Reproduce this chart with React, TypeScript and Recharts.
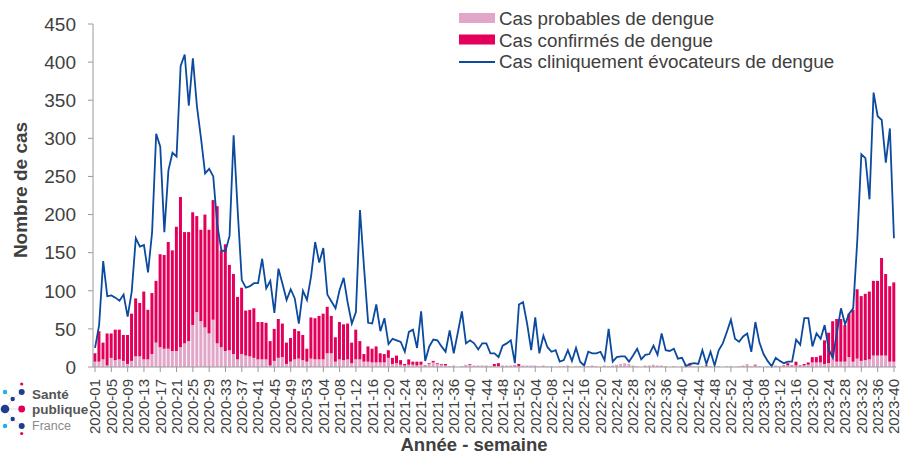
import React from 'react';
import { ComposedChart, Bar, Line, XAxis, YAxis } from 'recharts';

// Semaines épidémiologiques 2020-01 -> 2023-40
const YEARS = [2020, 2021, 2022, 2023];
const WEEKS_IN_YEAR = [53, 52, 52, 40];

const weeks: string[] = [];
YEARS.forEach((yr, k) => {
  for (let w = 1; w <= WEEKS_IN_YEAR[k]; w++) {
    weeks.push(`${yr}-${String(w).padStart(2, '0')}`);
  }
});

// Cas probables de dengue
const probables = [
  7, 7, 10, 2, 12, 9, 10, 8, 4, 8,
  14, 14, 10, 10, 17, 32, 26, 24, 24, 21,
  21, 26, 31, 34, 55, 72, 60, 52, 44, 62,
  31, 26, 21, 22, 17, 10, 17, 15, 14, 12,
  10, 10, 10, 2, 8, 12, 13, 4, 7, 10,
  11, 9, 7, 11, 10, 10, 10, 18, 18, 7,
  10, 9, 10, 5, 10, 10, 7, 7, 6, 6,
  6, 6, 12, 4, 5, 3, 2, 3, 3, 2,
  3, 1, 4, 6, 4, 3, 2, 1, 2, 0,
  1, 3, 3, 2, 2, 2, 2, 1, 1, 1,
  2, 2, 2, 1, 1, 2, 2, 2, 2, 1,
  2, 1, 1, 0, 1, 1, 2, 0, 1, 1,
  0, 1, 2, 1, 0, 2, 1, 2, 3, 4,
  5, 4, 2, 1, 0, 2, 2, 3, 2, 2,
  1, 0, 1, 0, 1, 1, 2, 1, 1, 1,
  1, 1, 0, 1, 0, 1, 1, 0, 1, 2,
  4, 1, 2, 1, 0, 1, 0, 2, 1, 1,
  2, 1, 2, 1, 2, 3, 6, 6, 6, 4,
  5, 13, 7, 7, 7, 13, 7, 11, 8, 9,
  10, 15, 15, 15, 15, 7, 7,
];

// Cas confirmés de dengue
const confirmes = [
  11, 40, 22, 42, 32, 40, 39, 34, 38, 62,
  76, 70, 89, 65, 80, 81, 122, 123, 140, 132,
  163, 197, 146, 143, 148, 126, 120, 148, 136, 157,
  180, 127, 140, 112, 105, 82, 87, 59, 61, 65,
  49, 49, 48, 32, 42, 51, 44, 28, 31, 40,
  36, 33, 17, 54, 54, 57, 60, 61, 49, 32,
  49, 47, 47, 27, 39, 24, 10, 20, 18, 21,
  12, 11, 10, 8, 10, 6, 2, 7, 4, 5,
  4, 1, 1, 2, 1, 1, 2, 0, 0, 0,
  0, 0, 1, 0, 0, 0, 0, 0, 3, 4,
  0, 0, 0, 1, 3, 0, 0, 0, 0, 0,
  0, 0, 0, 0, 0, 0, 0, 0, 0, 0,
  0, 0, 0, 0, 0, 0, 0, 0, 0, 0,
  0, 0, 0, 0, 0, 0, 0, 0, 0, 0,
  0, 0, 0, 0, 0, 2, 3, 0, 0, 0,
  1, 0, 0, 0, 0, 0, 0, 0, 0, 0,
  0, 0, 1, 0, 0, 0, 0, 0, 0, 1,
  3, 1, 5, 1, 2, 3, 7, 7, 9, 31,
  40, 47, 56, 56, 48, 57, 68, 91, 85, 87,
  89, 98, 98, 128, 107, 99, 104,
];

// Cas cliniquement évocateurs de dengue
const evocateurs = [
  25, 55, 139, 93, 94, 91, 87, 95, 66, 99,
  169, 158, 160, 124, 177, 306, 289, 177, 258, 281,
  276, 395, 410, 343, 405, 342, 300, 254, 260, 250,
  186, 153, 152, 172, 304, 205, 114, 104, 106, 110,
  110, 142, 103, 113, 71, 129, 109, 88, 102, 90,
  57, 100, 88, 119, 164, 137, 156, 95, 86, 77,
  101, 117, 84, 57, 72, 206, 130, 58, 57, 82,
  47, 64, 30, 37, 35, 33, 20, 46, 49, 25,
  73, 8, 27, 36, 35, 27, 20, 48, 18, 45,
  73, 31, 35, 31, 23, 31, 31, 18, 18, 13,
  28, 31, 35, 5, 82, 85, 57, 22, 65, 18,
  41, 26, 20, 22, 7, 9, 22, 8, 25, 7,
  2, 20, 18, 18, 20, 9, 50, 7, 13, 14,
  14, 7, 15, 24, 10, 16, 17, 28, 16, 44,
  22, 21, 24, 11, 12, 1, 4, 5, 4, 22,
  4, 20, 2, 22, 31, 46, 62, 37, 33, 40,
  44, 20, 59, 32, 17, 8, 1, 12, 8, 5,
  7, 7, 36, 29, 64, 64, 27, 44, 37, 55,
  23, 12, 45, 77, 56, 70, 77, 166, 279, 274,
  220, 360, 329, 324, 268, 313, 169,
];

const yTicks = [0, 50, 100, 150, 200, 250, 300, 350, 400, 450];

const legendItems = [
  { label: 'Cas probables de dengue', color: '#e2a6c9', kind: 'box' },
  { label: 'Cas confirmés de dengue', color: '#e4005a', kind: 'box' },
  { label: 'Cas cliniquement évocateurs de dengue', color: '#0b4a9e', kind: 'line' },
];

const FONT = '"Liberation Sans", Arial, sans-serif';
const TEXT = '#404040';

const data = weeks.map((w, i) => ({
  week: w,
  probables: probables[i],
  confirmes: confirmes[i],
  evocateurs: evocateurs[i],
}));

const XTick = (props: any) => {
  const { x, y, payload } = props;
  return (
    <g transform={`translate(${x},${y})`}>
      <text
        transform="rotate(-90)"
        x={-5}
        y={0}
        dy={5.3}
        textAnchor="end"
        fontSize={15}
        fontFamily={FONT}
        fill={TEXT}
      >
        {payload.value}
      </text>
    </g>
  );
};

const Logo = () => (
  <svg width={92} height={70} style={{ position: 'absolute', left: 0, top: 378 }}>
    <g stroke="#c9c9c9" strokeWidth={0.6}>
      <line x1={5} y1={14} x2={12.7} y2={21} />
      <line x1={21.7} y1={14} x2={12.7} y2={21} />
      <line x1={12.7} y1={21} x2={5} y2={31} />
      <line x1={5} y1={31} x2={21.7} y2={31} />
      <line x1={5} y1={31} x2={12.7} y2={41} />
      <line x1={12.7} y1={41} x2={5} y2={48} />
      <line x1={12.7} y1={41} x2={21.7} y2={48} />
    </g>
    <circle cx={21.7} cy={6} r={1.6} fill="#e4005a" />
    <circle cx={5} cy={14} r={2.2} fill="#1fb0e6" />
    <circle cx={21.7} cy={14} r={3} fill="#1d3d8f" />
    <circle cx={12.7} cy={21} r={2.2} fill="#1d3d8f" />
    <circle cx={5} cy={31} r={4.3} fill="#1d3d8f" />
    <circle cx={21.7} cy={31} r={3.4} fill="#e4005a" />
    <circle cx={12.7} cy={41} r={2.2} fill="#1d3d8f" />
    <circle cx={5} cy={48} r={2.2} fill="#1fb0e6" />
    <circle cx={21.7} cy={48} r={3} fill="#1d3d8f" />
    <circle cx={21.7} cy={55.5} r={1.6} fill="#e4005a" />
    <text x={32} y={21} fontSize={13.5} fontWeight="bold" fontFamily={FONT} fill="#555">Santé</text>
    <text x={32} y={36} fontSize={13.5} fontWeight="bold" fontFamily={FONT} fill="#555">publique</text>
    <text x={32} y={52} fontSize={12.5} fontFamily={FONT} fill="#8a8a8a">France</text>
  </svg>
);

const LegendBox = () => (
  <svg width={420} height={75} style={{ position: 'absolute', left: 455, top: 4 }}>
    {legendItems.map((it, k) => {
      const cy = 14 + k * 21.5;
      return (
        <g key={it.label}>
          {it.kind === 'box' ? (
            <rect x={4} y={cy - 5} width={36} height={10} fill={it.color} />
          ) : (
            <line x1={4} y1={cy + 1} x2={40} y2={cy + 1} stroke={it.color} strokeWidth={2} />
          )}
          <text x={44} y={cy + 7} fontSize={18.8} fontFamily={FONT} fill={TEXT}>
            {it.label}
          </text>
        </g>
      );
    })}
  </svg>
);

export default function App() {
  return (
    <div
      style={{
        position: 'absolute',
        left: 0,
        top: 0,
        width: 903,
        height: 457,
        background: '#fff',
        overflow: 'hidden',
        fontFamily: FONT,
      }}
    >
      <ComposedChart
        width={903}
        height={457}
        data={data}
        margin={{ top: 24, right: 7, left: 33, bottom: 0 }}
        barCategoryGap="9%"
      >
        <XAxis
          dataKey="week"
          interval={3}
          height={90}
          tickSize={5}
          axisLine={{ stroke: '#9a9a9a' }}
          tickLine={{ stroke: '#9a9a9a' }}
          tick={(p: any) => <XTick {...p} />}
        />
        <YAxis
          domain={[0, 450]}
          ticks={yTicks}
          width={60}
          tickSize={5}
          tickMargin={12}
          axisLine={{ stroke: '#9a9a9a' }}
          tickLine={{ stroke: '#9a9a9a' }}
          tick={{ fill: TEXT, fontSize: 19, fontFamily: FONT }}
        />
        <Bar dataKey="probables" stackId="a" fill="#e2a6c9" isAnimationActive={false} />
        <Bar dataKey="confirmes" stackId="a" fill="#e4005a" isAnimationActive={false} />
        <Line
          type="linear"
          dataKey="evocateurs"
          stroke="#0b4a9e"
          strokeWidth={1.8}
          dot={false}
          activeDot={false}
          isAnimationActive={false}
        />
      </ComposedChart>

      <svg width={903} height={457} style={{ position: 'absolute', left: 0, top: 0, pointerEvents: 'none' }}>
        <text
          transform="translate(27,190) rotate(-90)"
          textAnchor="middle"
          fontSize={19}
          fontWeight="bold"
          fontFamily={FONT}
          fill={TEXT}
        >
          Nombre de cas
        </text>
        <text x={474} y={451} textAnchor="middle" fontSize={18.5} fontWeight="bold" fontFamily={FONT} fill={TEXT}>
          Année - semaine
        </text>
      </svg>

      <LegendBox />
      <Logo />
    </div>
  );
}
